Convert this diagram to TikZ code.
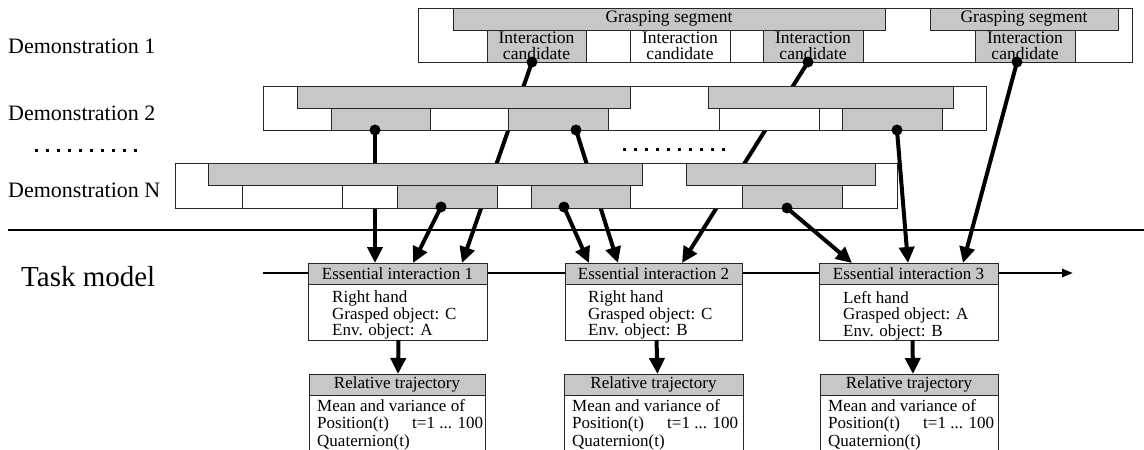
\documentclass[tikz,border=0pt]{standalone}
\usepackage{fontspec}
\setmainfont{Liberation Serif}
\usetikzlibrary{arrows.meta,calc}
\newcommand\bx[7]{%
  \pgfmathsetmacro\bxw{#4-#2}\pgfmathsetmacro\bxh{#5-#3}%
  \node[#6, minimum width=\bxw pt, minimum height=\bxh pt] (#1) at ({(#2+#4)/2},{(#3+#5)/2}) {#7};}
\tikzset{
  bar/.style={draw=black!85, line width=1pt, fill=white, inner sep=0pt, outer sep=0pt},
  gbar/.style={bar, fill=black!22},
  lbl/.style={font=\fontsize{17}{16}\selectfont, align=center},
  seg/.style={font=\fontsize{17.5}{16}\selectfont, align=center},
  cand/.style={font=\fontsize{17.5}{16.2}\selectfont, align=center},
  body/.style={font=\fontsize{17}{16.5}\selectfont, align=left, anchor=north west, inner sep=0pt},
  rbody/.style={font=\fontsize{17}{17.5}\selectfont, align=left, anchor=north west, inner sep=0pt},
  conn/.style={line width=4pt, -{Triangle[length=16pt,width=15pt]}},
  demo/.style={anchor=west, font=\fontsize{22}{24}\selectfont, inner sep=0pt},
  dotrow/.style={line width=3pt, dash pattern=on 3pt off 8pt},
  rule/.style={line width=2.6pt}
}
\begin{document}
\begin{tikzpicture}[x=1pt,y=-1pt]
\useasboundingbox (0,0) rectangle (1144,450);
\clip (0,0) rectangle (1144,450);
% labels
\node[demo] (L1) at (8,46) {Demonstration 1};
\node[demo] (L2) at (8,113) {Demonstration 2};
\node[demo] (LN) at (8,190) {Demonstration N};
\node[anchor=base west, font=\fontsize{29}{30}\selectfont, inner sep=0pt] (TM) at (21,286) {Task model};
\draw[dotrow] (35,150) -- (140,150);
\draw[dotrow] (623,149) -- (728,149);
\draw[rule] (8,230) -- (1144,230);
\coordinate (ts) at (263,273);
\coordinate (te) at (1073,273);
\draw[rule, -{Triangle[length=11pt,width=8pt]}] (ts) -- (te);
% dot positions
\coordinate (p1a) at (532,62);
\coordinate (p1b) at (808,62);
\coordinate (p1c) at (1017,62);
\coordinate (p2a) at (375,130);
\coordinate (p2b) at (576,130);
\coordinate (p2c) at (897,130);
\coordinate (pNa) at (441,207);
\coordinate (pNb) at (564,207);
\coordinate (pNc) at (787,208);
% targets
\coordinate (t11) at (375,263);
\coordinate (t12) at (413,263);
\coordinate (t13) at (462,263);
\coordinate (t21) at (589,263);
\coordinate (t22) at (618,263);
\coordinate (t23) at (682,263);
\coordinate (t31) at (852,263);
\coordinate (t32) at (908,263);
\coordinate (t33) at (963,263);
% connectors
\draw[conn] (p2a) -- (t11);
\draw[conn] (pNa) -- (t12);
\draw[conn] (p1a) -- (t13);
\draw[conn] (pNb) -- (t21);
\draw[conn] (p2b) -- (t22);
\draw[conn] (p1b) -- (t23);
\draw[conn] (pNc) -- (t31);
\draw[conn] (p2c) -- (t32);
\draw[conn] (p1c) -- (t33);
% Demonstration 1
\bx{d1}{418}{8}{1132}{62}{bar}{}
\bx{g1a}{453}{8}{885}{30}{gbar,seg}{Grasping segment}
\bx{g1b}{930}{8}{1118}{30}{gbar,seg}{Grasping segment}
\bx{c1a}{487}{30}{586}{62}{gbar,cand}{Interaction\\candidate}
\bx{c1b}{586}{30}{630}{62}{bar}{}
\bx{c1c}{630}{30}{730}{62}{bar,cand}{Interaction\\candidate}
\bx{c1d}{730}{30}{763}{62}{bar}{}
\bx{c1e}{763}{30}{863}{62}{gbar,cand}{Interaction\\candidate}
\bx{c1f}{975}{30}{1075}{62}{gbar,cand}{Interaction\\candidate}
% Demonstration 2
\bx{d2}{263}{86}{986}{130}{bar}{}
\bx{g2a}{297}{86}{630}{108}{gbar}{}
\bx{g2b}{708}{86}{953}{108}{gbar}{}
\bx{c2a}{331}{108}{430}{130}{gbar}{}
\bx{c2b}{430}{108}{508}{130}{bar}{}
\bx{c2c}{508}{108}{608}{130}{gbar}{}
\bx{c2d}{719}{108}{819}{130}{bar}{}
\bx{c2e}{819}{108}{842}{130}{bar}{}
\bx{c2f}{842}{108}{942}{130}{gbar}{}
% Demonstration N
\bx{dN}{175}{163}{897}{208}{bar}{}
\bx{gNa}{208}{163}{642}{185}{gbar}{}
\bx{gNb}{686}{163}{875}{185}{gbar}{}
\bx{cNa}{242}{185}{342}{208}{bar}{}
\bx{cNb}{342}{185}{397}{208}{bar}{}
\bx{cNc}{397}{185}{497}{208}{gbar}{}
\bx{cNd}{497}{185}{531}{208}{bar}{}
\bx{cNe}{531}{185}{630}{208}{gbar}{}
\bx{cNf}{742}{185}{842}{208}{gbar}{}
% dots
\foreach \p in {p1a,p1b,p1c,p2a,p2b,p2c,pNa,pNb,pNc} \fill (\p) circle (5.5);
% Essential interactions
\bx{e1h}{308}{263}{487}{284}{gbar,lbl}{Essential interaction 1}
\bx{e1b}{308}{284}{487}{340}{bar}{}
\node[body] (e1t) at (332,291) {Right hand\\Grasped object: C\\Env. object: A};
\bx{e2h}{565}{263}{742}{284}{gbar,lbl}{Essential interaction 2}
\bx{e2b}{565}{284}{742}{340}{bar}{}
\node[body] (e2t) at (588,291) {Right hand\\Grasped object: C\\Env. object: B};
\bx{e3h}{819}{263}{998}{284}{gbar,lbl}{Essential interaction 3}
\bx{e3b}{819}{284}{998}{340}{bar}{}
\node[body] (e3t) at (843,291) {Left hand\\Grasped object: A\\Env. object: B};
% Relative trajectories
\bx{r1h}{309}{374}{485}{395}{gbar,lbl}{Relative trajectory}
\bx{r1b}{309}{395}{485}{470}{bar}{}
\node[rbody] (r1t) at (317,399) {Mean and variance of\\\makebox[95pt][l]{Position(t)}t=1 ... 100\\Quaternion(t)};
\bx{r2h}{564}{374}{743}{395}{gbar,lbl}{Relative trajectory}
\bx{r2b}{564}{395}{743}{470}{bar}{}
\node[rbody] (r2t) at (572,399) {Mean and variance of\\\makebox[95pt][l]{Position(t)}t=1 ... 100\\Quaternion(t)};
\bx{r3h}{820}{374}{998}{395}{gbar,lbl}{Relative trajectory}
\bx{r3b}{820}{395}{998}{470}{bar}{}
\node[rbody] (r3t) at (828,399) {Mean and variance of\\\makebox[95pt][l]{Position(t)}t=1 ... 100\\Quaternion(t)};
% EI -> RT
\draw[conn] ($(e1b.south)+(1,0)$) -- ($(r1h.north)+(1,0)$);
\draw[conn] ($(e2b.south)+(3,0)$) -- ($(r2h.north)+(4,0)$);
\draw[conn] ($(e3b.south)+(4,0)$) -- ($(r3h.north)+(4,0)$);
\end{tikzpicture}
\end{document}
